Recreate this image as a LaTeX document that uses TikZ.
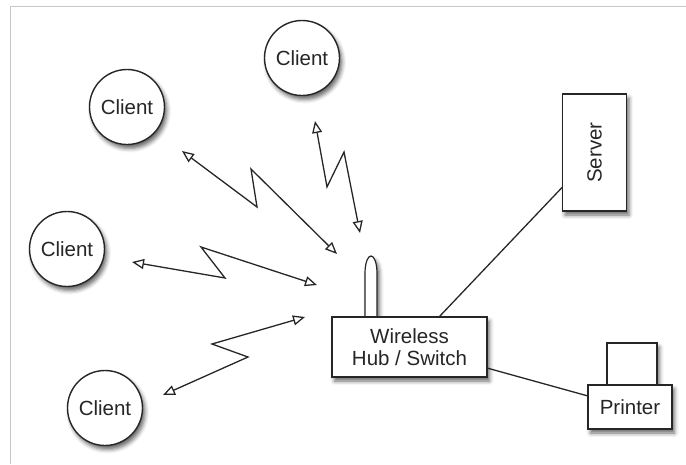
\documentclass[tikz,border=0pt]{standalone}
\usepackage{fontspec}
\setmainfont{Liberation Sans}
\usetikzlibrary{arrows.meta,shadows.blur}
\begin{document}
\begin{tikzpicture}[x=1pt,y=-1pt,
  every node/.style={font=\fontsize{20.5}{22}\selectfont, text=black!85},
  sh/.style={blur shadow={shadow xshift=2.5pt, shadow yshift=-4pt, shadow blur radius=4pt, shadow opacity=60}},
  client/.style={circle, draw=black!85, line width=1.4pt, fill=white, minimum size=75pt, inner sep=0pt, sh},
  box/.style={rectangle, draw=black!85, line width=1.4pt, fill=white, inner sep=0pt, sh},
  link/.style={draw=black!85, line width=1.3pt},
  zig/.style={draw=black!85, line width=1.3pt, {Triangle[open,length=12pt,width=10pt]}-{Triangle[open,length=12pt,width=10pt]}}
]
\useasboundingbox (0,0) rectangle (686,464);
\draw[black!22, line width=1pt] (686,6) -- (10,6) -- (10,464);

% clients
\node[client] (c1) at (302,58) {Client};
\node[client] (c2) at (127,107) {Client};
\node[client] (c3) at (67,249) {Client};
\node[client] (c4) at (105,408) {Client};

% antenna
\path[draw=black!85, line width=1.2pt, fill=white, sh] (365,318) -- (365,274) .. controls (365,250) and (377,250) .. (377,274) -- (377,318);

% hub
\node[box, minimum width=155pt, minimum height=60pt, align=center] (hub) at (409.5,347) {Wireless\\Hub / Switch};

% server
\node[box, minimum width=64pt, minimum height=117pt] (server) at (594.5,152.5) {};
\node[rotate=90] (servertext) at (server.center) {Server};

% printer
\node[box, minimum width=50pt, minimum height=42pt] (ptop) at (632,364) {};
\node[box, minimum width=84pt, minimum height=44pt] (printer) at (630,407) {Printer};

% wired links
\coordinate (hs) at (439,317);
\coordinate (sv) at (562.5,187);
\draw[link] (hs) -- (sv);
\coordinate (hp) at (487,368);
\coordinate (pr) at (588,396);
\draw[link] (hp) -- (pr);

% wireless zigzags
\coordinate (a1) at (182,151); \coordinate (b1) at (337,254);
\draw[zig] (a1) -- (257,207) -- (251,169) -- (b1);
\coordinate (a2) at (315,121); \coordinate (b2) at (360,233);
\draw[zig] (a2) -- (327,187) -- (344,152) -- (b2);
\coordinate (a3) at (132,262); \coordinate (b3) at (317,285);
\draw[zig] (a3) -- (225,278) -- (201,247) -- (b3);
\coordinate (a4) at (163,395); \coordinate (b4) at (305,317);
\draw[zig] (a4) -- (248,357) -- (212,344) -- (b4);
\end{tikzpicture}
\end{document}
